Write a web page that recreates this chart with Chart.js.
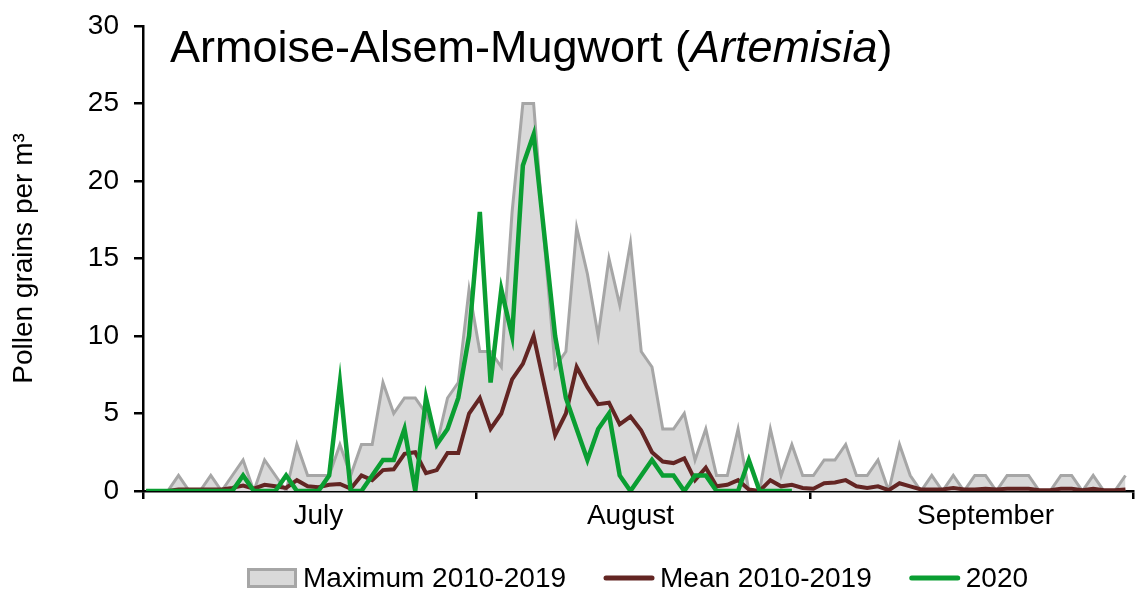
<!DOCTYPE html>
<html>
<head>
<meta charset="utf-8">
<script src="https://cdn.jsdelivr.net/npm/chart.js@4.4.0/dist/chart.umd.min.js"></script>
<style>
  html, body { margin: 0; padding: 0; background: #fff; }
  #wrap { width: 1136px; height: 590px; position: relative; }
</style>
</head>
<body>
<div id="wrap"><canvas id="chart"></canvas></div>
<script>
'use strict';

// daily pollen counts, index 0 = 1 July ... index 91 = 30 September
var maximum = [
  0, 0, 0, 1, 0, 0, 1, 0, 1, 2,
  0, 2, 1, 0, 3, 1, 1, 1, 3, 1,
  3, 3, 7, 5, 6, 6, 5, 3, 6, 7,
  13, 9, 9, 8, 18, 25, 25, 16, 8, 9,
  17, 14, 10, 15, 12, 16, 9, 8, 4, 4,
  5, 2, 4, 1, 1, 4, 0, 0, 4, 1,
  3, 1, 1, 2, 2, 3, 1, 1, 2, 0,
  3, 1, 0, 1, 0, 1, 0, 1, 1, 0,
  1, 1, 1, 0, 0, 1, 1, 0, 1, 0,
  0, 1
];
var mean = [
  0, 0, 0, 0.1, 0.1, 0.1, 0.1, 0.1, 0.2, 0.35,
  0.15, 0.4, 0.3, 0.2, 0.7, 0.3, 0.25, 0.4, 0.45, 0.15,
  1.0, 0.7, 1.35, 1.4, 2.4, 2.5, 1.15, 1.35, 2.45, 2.45,
  5.0, 6.0, 4.0, 5.0, 7.2, 8.2, 10.0, 6.8, 3.6, 5.0,
  8.0, 6.7, 5.6, 5.7, 4.3, 4.8, 3.9, 2.5, 1.9, 1.8,
  2.1, 0.7, 1.5, 0.3, 0.4, 0.7, 0.1, 0.0, 0.7, 0.3,
  0.4, 0.2, 0.15, 0.5, 0.55, 0.7, 0.3, 0.2, 0.3, 0.05,
  0.5, 0.3, 0.1, 0.1, 0.1, 0.2, 0.1, 0.1, 0.15, 0.1,
  0.15, 0.15, 0.15, 0.05, 0.05, 0.15, 0.15, 0.05, 0.15, 0.05,
  0.05, 0.1
];
// 2020 series stops on 30 August
var year2020 = [
  0, 0, 0, 0, 0, 0, 0, 0, 0, 1,
  0, 0, 0, 1, 0, 0, 0, 1, 7, 0,
  0, 1, 2, 2, 4, 0, 6, 3, 4, 6,
  10, 18, 7, 13, 10, 21, 23, 16.5, 10, 6,
  4, 2, 4, 5, 1, 0, 1, 2, 1, 1,
  0, 1, 1, 0, 0, 0, 2, 0, 0, 0,
  0
];
var seriesNames = ['Maximum 2010-2019', 'Mean 2010-2019', '2020'];
var months = ['July', 'August', 'September'];
var monthStarts = [0, 31, 62, 92];   // day index of the 1st of each month (92 = 1 October)
var monthLabelDays = [16, 45, 78];   // day index under which each month name sits

var shift = 0.3;  // points sit a little right of the month boundary ticks
var FONT = '"Liberation Sans", Arial, sans-serif';

function toPoints(arr) {
  return arr.map(function(v, i) { return { x: i, y: v }; });
}

// title with the italic genus name
var titlePlugin = {
  id: 'plotTitle',
  afterDraw: function(chart) {
    var ctx = chart.ctx;
    var parts = [
      ['Armoise-Alsem-Mugwort (', 'normal'],
      ['Artemisia', 'italic'],
      [')', 'normal']
    ];
    var x = 170;
    ctx.save();
    ctx.fillStyle = '#000';
    ctx.textBaseline = 'alphabetic';
    parts.forEach(function(p) {
      ctx.font = p[1] + ' 45px ' + FONT;
      ctx.fillText(p[0], x, 62);
      x += ctx.measureText(p[0]).width;
    });
    ctx.restore();
  }
};

// legend drawn under the axis: box for the area, short lines for the others
var legendPlugin = {
  id: 'bottomLegend',
  afterDraw: function(chart) {
    var ctx = chart.ctx;
    var x = 247, y = 578;
    ctx.save();
    ctx.font = '28px ' + FONT;
    ctx.textBaseline = 'middle';
    chart.data.datasets.forEach(function(ds) {
      if (ds.fill) {
        ctx.fillStyle = ds.backgroundColor;
        ctx.fillRect(x, y - 10, 50, 20);
        ctx.strokeStyle = ds.borderColor;
        ctx.lineWidth = 3;
        ctx.strokeRect(x + 1.5, y - 8.5, 47, 17);
      } else {
        ctx.strokeStyle = ds.borderColor;
        ctx.lineWidth = 5;
        ctx.lineCap = 'round';
        ctx.beginPath();
        ctx.moveTo(x + 2, y);
        ctx.lineTo(x + 48, y);
        ctx.stroke();
      }
      ctx.fillStyle = '#000';
      ctx.fillText(ds.label, x + 56, y + 1);
      x += 56 + ctx.measureText(ds.label).width + 38;
    });
    ctx.restore();
  }
};

var ctx = document.getElementById('chart').getContext('2d');
new Chart(ctx, {
  type: 'line',
  data: {
    datasets: [{
      label: seriesNames[0],
      data: toPoints(maximum),
      fill: 'origin',
      backgroundColor: '#d9d9d9',
      borderColor: '#a6a6a6',
      borderWidth: 3,
      pointRadius: 0,
      tension: 0,
      order: 3
    }, {
      label: seriesNames[1],
      data: toPoints(mean),
      fill: false,
      borderColor: '#632523',
      borderWidth: 4,
      pointRadius: 0,
      tension: 0,
      order: 2
    }, {
      label: seriesNames[2],
      data: toPoints(year2020),
      fill: false,
      borderColor: '#0a9e32',
      borderWidth: 4.5,
      pointRadius: 0,
      tension: 0,
      order: 1
    }]
  },
  options: {
    responsive: true,
    maintainAspectRatio: false,
    animation: false,
    devicePixelRatio: 1,
    layout: { padding: { top: 26, right: 3, bottom: 59, left: 0 } },
    plugins: {
      legend: { display: false },
      tooltip: { enabled: false }
    },
    scales: {
      x: {
        type: 'linear',
        min: monthStarts[0] - shift,
        max: monthStarts[3] - shift,
        afterBuildTicks: function(scale) {
          var ticks = [];
          for (var k = 0; k < monthStarts.length; k++) {
            ticks.push({ value: monthStarts[k] - shift, label: '' });
            if (k < months.length) {
              ticks.push({ value: monthLabelDays[k], label: months[k] });
            }
          }
          scale.ticks = ticks;
        },
        afterFit: function(scale) { scale.height = 40; },
        ticks: {
          autoSkip: false,
          maxRotation: 0,
          padding: 0,
          color: '#000',
          font: { family: FONT, size: 28 },
          callback: function(value, index, ticks) { return ticks[index].label; }
        },
        grid: {
          drawOnChartArea: false,
          drawTicks: true,
          tickLength: 8,
          lineWidth: 2.5,
          color: function(c) { return c.tick && c.tick.label ? 'rgba(0,0,0,0)' : '#000'; }
        },
        border: { display: true, color: '#000', width: 2.5 }
      },
      y: {
        min: 0,
        max: 30,
        afterFit: function(scale) {
          scale.width = 143;
          // label overhang only, so the plot top sits at the layout padding
          scale.paddingTop = 17;
          scale.paddingBottom = 17;
        },
        ticks: {
          stepSize: 5,
          padding: 15,
          color: '#000',
          font: { family: FONT, size: 28 }
        },
        grid: {
          drawOnChartArea: false,
          drawTicks: true,
          tickLength: 9,
          lineWidth: 2.5,
          color: '#000'
        },
        border: { display: true, color: '#000', width: 2.5 },
        title: {
          display: true,
          text: 'Pollen grains per m³',
          color: '#000',
          padding: { top: 7, bottom: 0 },
          font: { family: FONT, size: 28 }
        }
      }
    }
  },
  plugins: [titlePlugin, legendPlugin]
});
</script>
</body>
</html>
